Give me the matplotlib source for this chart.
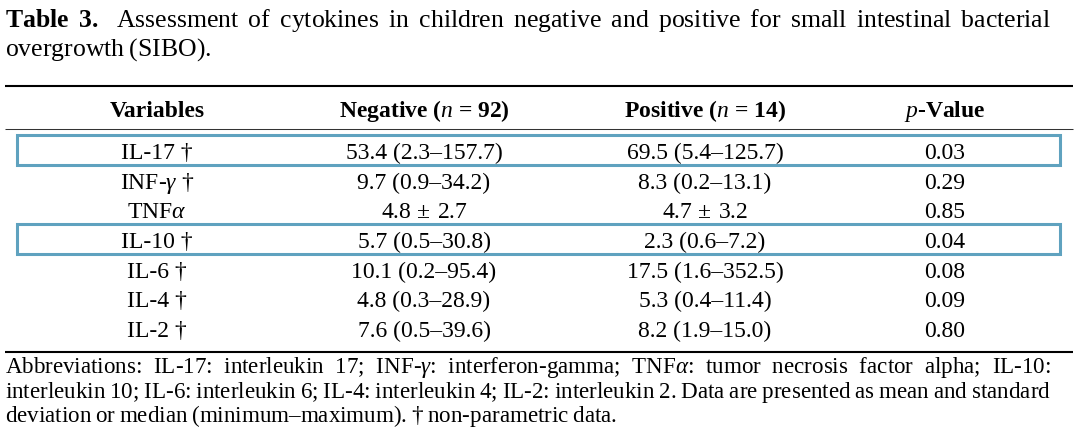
"""Table 3 of the SIBO cytokine paper, redrawn as text on a blank pixel-sized axes."""
import matplotlib
matplotlib.use("Agg")
import matplotlib.pyplot as plt
from matplotlib.patches import Rectangle

W, H = 1080, 431
FONT = "Liberation Serif"
BOX = "#5fa2bf"
plt.rcParams.update({"font.family": FONT, "mathtext.fontset": "custom",
                     "mathtext.rm": FONT, "mathtext.it": FONT + ":italic",
                     "mathtext.bf": FONT + ":bold"})

caption_bold = ["Table", "3."]
caption_lines = ["Assessment of cytokines in children negative and positive for small intestinal bacterial",
                 "overgrowth (SIBO)."]
headers = ["Variables", "Negative ($n$ = 92)", "Positive ($n$ = 14)", "$p$-Value"]
variables = ["IL-17 †", r"INF-$\gamma$ †", r"TNF$\alpha$", "IL-10 †", "IL-6 †", "IL-4 †", "IL-2 †"]
negative = ["53.4 (2.3–157.7)", "9.7 (0.9–34.2)", "4.8 ± 2.7", "5.7 (0.5–30.8)",
            "10.1 (0.2–95.4)", "4.8 (0.3–28.9)", "7.6 (0.5–39.6)"]
positive = ["69.5 (5.4–125.7)", "8.3 (0.2–13.1)", "4.7 ± 3.2", "2.3 (0.6–7.2)",
            "17.5 (1.6–352.5)", "5.3 (0.4–11.4)", "8.2 (1.9–15.0)"]
p_values = ["0.03", "0.29", "0.85", "0.04", "0.08", "0.09", "0.80"]
highlighted = [0, 3]  # rows framed in blue: IL-17, IL-10
footnote_lines = [r"Abbreviations: IL-17: interleukin 17; INF-$\gamma$: interferon-gamma; TNF$\alpha$: tumor necrosis factor alpha; IL-10:",
                  "interleukin 10; IL-6: interleukin 6; IL-4: interleukin 4; IL-2: interleukin 2. Data are presented as mean and standard",
                  "deviation or median (minimum–maximum). † non-parametric data."]

# layout (pixels)
CAP_PT, BODY_PT, FOOT_PT = 18.5, 17.0, 16.6
col_x = [157, 424, 705, 945]
head_y = 116.7
row0_y, row_dy = 159.3, 29.57
cap_y = [27.5, 55.5]
foot_y = [373.5, 398.0, 422.5]
TEXT_L, TEXT_R = 5, 1051

fig = plt.figure(figsize=(W / 100, H / 100), dpi=100)
ax = fig.add_axes([0, 0, 1, 1])
ax.set_xlim(0, W); ax.set_ylim(H, 0); ax.axis("off")
R = fig.canvas.get_renderer()

def width(s, size):
    t = ax.text(0, 0, s, fontsize=size)
    w = t.get_window_extent(renderer=R).width; t.remove(); return w

def joined(words, f, bold_head=0):
    # words glued by \hspace{f}; the first bold_head words are set bold
    sp = r"\hspace{%.4f}" % f
    head = sp.join(r"\mathbf{%s}" % w for w in words[:bold_head])
    rest = ("$" + sp + "$").join(words[bold_head:])
    return ("$" + head + sp + r"\hspace{0.25}$" if bold_head else "") + rest

def set_line(words, y, size, justify, bold_head=0):
    f = 0.28
    while justify:
        w0 = width(joined(words, 0.0, bold_head), size)
        w1 = width(joined(words, 1.0, bold_head), size)
        f = (TEXT_R - TEXT_L - w0) / (w1 - w0)
        if f >= 0.22: break
        size -= 0.2  # too long for the measure: shrink this line a touch
    ax.text(TEXT_L, y, joined(words, f, bold_head), fontsize=size, ha="left", va="baseline")

# caption
set_line(caption_bold + caption_lines[0].split(" "), cap_y[0], CAP_PT, True, bold_head=2)
set_line(caption_lines[1].split(" "), cap_y[1], CAP_PT, False)

# rules
ax.plot([5, 1073], [87, 87], color="black", lw=1.5, solid_capstyle="butt")
ax.plot([5, 1073], [130, 130], color="#333333", lw=0.75, solid_capstyle="butt")
ax.plot([5, 1073], [352.5, 352.5], color="black", lw=1.5, solid_capstyle="butt")

# header
for cx, hd in zip(col_x, headers):
    ax.text(cx, head_y, hd, fontsize=BODY_PT, fontweight="bold", ha="center", va="baseline")

# body
for i, row in enumerate(zip(variables, negative, positive, p_values)):
    y = row0_y + i * row_dy
    for cx, cell in zip(col_x, row):
        cell = cell.replace(" ± ", r"$\hspace{0.36}$±$\hspace{0.44}$")  # math-style spacing round ±
        ax.text(cx, y, cell, fontsize=BODY_PT, ha="center", va="baseline")
    if i in highlighted:
        ax.add_patch(Rectangle((17, y - 23), 1043, 30, fill=False, edgecolor=BOX, lw=2.2))

# footnote
for k, (line, y) in enumerate(zip(footnote_lines, foot_y)):
    set_line(line.split(" "), y, FOOT_PT, k < 2)

fig.savefig("out.png", dpi=100)
